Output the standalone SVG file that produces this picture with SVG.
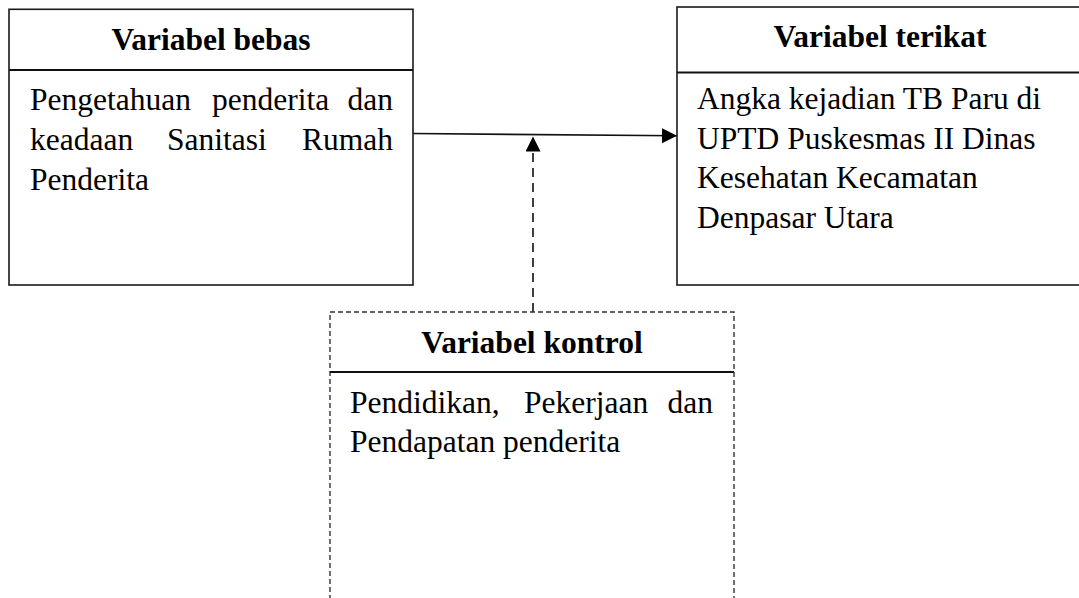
<svg xmlns="http://www.w3.org/2000/svg" width="1079" height="598" viewBox="0 0 1079 598">
  <style>
    .box { fill: #ffffff; stroke: #1a1a1a; stroke-width: 1.6; }
    .dbox { fill: #ffffff; stroke: #333333; stroke-width: 1.4; stroke-dasharray: 5 3; }
    .div { stroke: #111111; stroke-width: 2; }
    .hd { font-family: "Liberation Serif", "Times New Roman", serif; font-weight: bold; font-size: 31.5px; fill: #000; text-anchor: middle; }
    .bd { font-family: "Liberation Serif", "Times New Roman", serif; font-size: 31.5px; fill: #000; }
    .end { text-anchor: end; }
    .conn { stroke: #111111; stroke-width: 1.6; fill: none; }
    .dash { stroke-dasharray: 9 6; }
  </style>
  <defs>
    <marker id="ah" markerUnits="userSpaceOnUse" markerWidth="16" markerHeight="16" refX="15" refY="7.5" orient="auto">
      <path d="M0,0 L15,7.5 L0,15 Z" fill="#000"/>
    </marker>
  </defs>

  <g id="connectors">
    <line class="conn" x1="413" y1="133.5" x2="677" y2="135.8" marker-end="url(#ah)"/>
    <line class="conn dash" x1="533" y1="312" x2="533" y2="136.5" marker-end="url(#ah)"/>
  </g>

  <g id="variabel-bebas">
    <rect class="box" x="9" y="9.3" width="404" height="275.7"/>
    <line class="div" x1="9" y1="70" x2="413" y2="70"/>
    <text class="hd" x="211" y="49.5">Variabel bebas</text>
    <text class="bd" x="30" y="110">Pengetahuan</text>
    <text class="bd" x="212" y="110">penderita</text>
    <text class="bd end" x="393" y="110">dan</text>
    <text class="bd" x="30" y="150">keadaan</text>
    <text class="bd" x="167" y="150">Sanitasi</text>
    <text class="bd end" x="393" y="150">Rumah</text>
    <text class="bd" x="30" y="190">Penderita</text>
  </g>

  <g id="variabel-terikat">
    <rect class="box" x="677" y="7" width="410" height="278"/>
    <line class="div" x1="677" y1="72.5" x2="1087" y2="72.5"/>
    <text class="hd" x="880" y="47">Variabel terikat</text>
    <text class="bd" x="697" y="109">Angka kejadian TB Paru di</text>
    <text class="bd" x="697" y="148.5">UPTD Puskesmas II Dinas</text>
    <text class="bd" x="697" y="188">Kesehatan Kecamatan</text>
    <text class="bd" x="697" y="227.5">Denpasar Utara</text>
  </g>

  <g id="variabel-kontrol">
    <rect class="dbox" x="330" y="312" width="404" height="300"/>
    <line class="div" x1="330" y1="372" x2="734" y2="372"/>
    <text class="hd" x="532" y="353">Variabel kontrol</text>
    <text class="bd" x="350" y="413">Pendidikan,</text>
    <text class="bd" x="524" y="413">Pekerjaan</text>
    <text class="bd end" x="713" y="413">dan</text>
    <text class="bd" x="350" y="452">Pendapatan penderita</text>
  </g>
</svg>
